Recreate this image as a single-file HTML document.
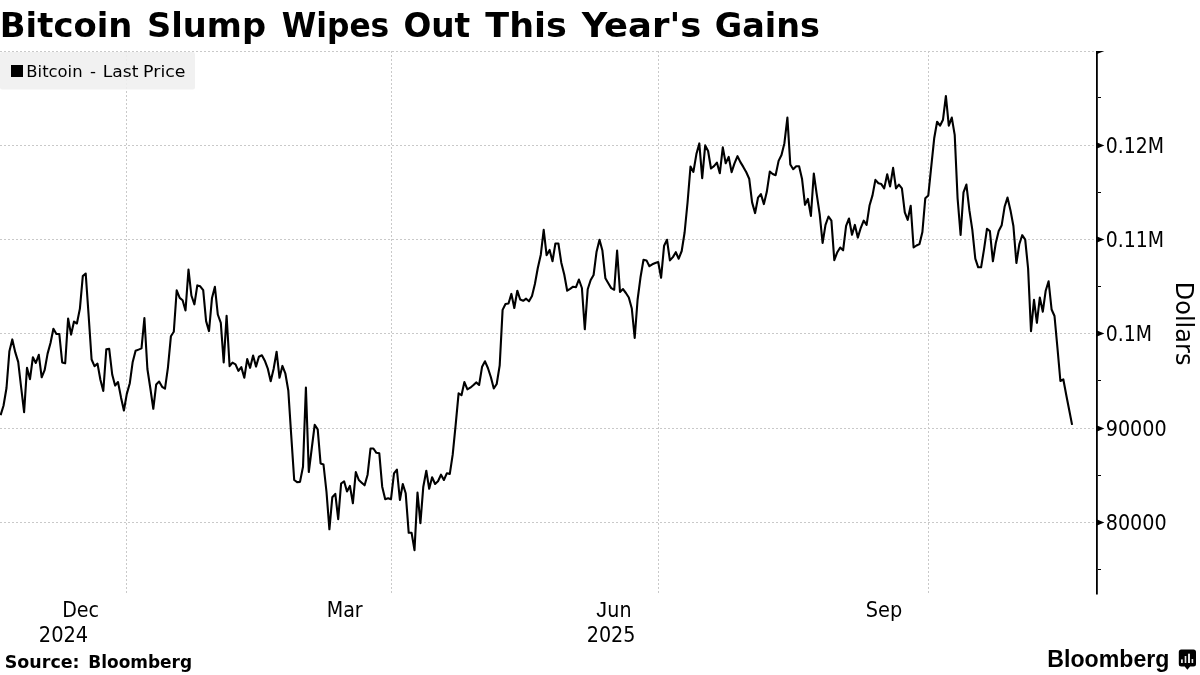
<!DOCTYPE html>
<html lang="en">
<head>
<meta charset="utf-8">
<title>Bitcoin Slump Wipes Out This Year's Gains</title>
<style>
html,body{margin:0;padding:0;background:#fff;}
body{width:1200px;height:675px;overflow:hidden;position:relative;font-family:"DejaVu Sans","Liberation Sans",sans-serif;}
svg{position:absolute;left:0;top:0;display:block;}
text{fill:#000;}
.t{font-family:"DejaVu Sans","Liberation Sans",sans-serif;font-weight:bold;font-size:34.35px;}
.l{font-family:"DejaVu Sans","Liberation Sans",sans-serif;font-size:16.6px;}
.a{font-family:"DejaVu Sans Condensed","DejaVu Sans","Liberation Sans",sans-serif;font-stretch:condensed;font-size:21.2px;}
.s{font-family:"DejaVu Sans","Liberation Sans",sans-serif;font-weight:bold;font-size:17.45px;}
.g{font-family:"Liberation Sans",sans-serif;font-weight:bold;font-size:23.7px;}
</style>
</head>
<body>
<svg width="1200" height="675" viewBox="0 0 1200 675">
<rect width="1200" height="675" fill="#fff"/>
<g stroke="#c9c9c9" stroke-width="1" stroke-dasharray="2 2" fill="none" shape-rendering="crispEdges"><line x1="0" y1="51.5" x2="1095" y2="51.5"/><line x1="0" y1="145.5" x2="1095" y2="145.5"/><line x1="0" y1="239.5" x2="1095" y2="239.5"/><line x1="0" y1="333.5" x2="1095" y2="333.5"/><line x1="0" y1="428.5" x2="1095" y2="428.5"/><line x1="0" y1="522.5" x2="1095" y2="522.5"/><line x1="126.5" y1="51" x2="126.5" y2="594"/><line x1="391.5" y1="51" x2="391.5" y2="594"/><line x1="658.5" y1="51" x2="658.5" y2="594"/><line x1="928.5" y1="51" x2="928.5" y2="594"/></g>
<rect x="0" y="52" width="195" height="37.5" rx="2" fill="#efefef" fill-opacity="0.88"/>
<rect x="11" y="65" width="12" height="12" fill="#000"/>
<polyline points="0.6,415.2 3.5,405.7 6.5,388.0 9.4,351.2 12.3,339.4 15.3,352.4 18.2,361.9 21.1,387.0 24.1,412.1 27.0,367.8 30.0,379.2 32.9,357.2 35.8,363.0 38.8,354.8 41.7,377.3 44.6,370.2 47.6,353.6 50.5,343.0 53.4,328.7 56.4,334.0 59.3,334.0 62.2,362.4 65.2,363.3 68.1,318.5 71.1,334.6 74.0,321.6 76.9,323.5 79.9,308.6 82.8,276.1 85.7,273.5 88.7,316.5 91.6,359.5 94.5,366.2 97.5,363.6 100.4,379.7 103.3,391.0 106.3,349.3 109.2,348.9 112.2,374.5 115.1,385.6 118.0,382.0 121.0,397.4 123.9,410.5 126.8,393.9 129.8,383.2 132.7,361.9 135.6,350.8 138.6,349.6 141.5,348.4 144.4,318.1 147.4,369.0 150.3,388.0 153.3,408.8 156.2,384.4 159.1,381.6 162.1,386.8 165.0,388.7 167.9,367.8 170.9,336.3 173.8,331.8 176.7,290.3 179.7,297.9 182.6,300.3 185.5,310.5 188.5,269.5 191.4,295.5 194.4,304.3 197.3,285.4 200.2,286.3 203.2,290.2 206.1,321.1 209.0,331.1 212.0,297.9 214.9,286.8 217.8,314.5 220.8,322.8 223.7,362.4 226.6,315.7 229.6,366.2 232.5,362.6 235.5,364.3 238.4,370.9 241.3,367.1 244.3,377.8 247.2,359.1 250.1,367.8 253.1,355.5 256.0,366.6 258.9,356.7 261.9,355.3 264.8,360.7 267.7,368.3 270.7,381.3 273.6,369.0 276.6,351.7 279.5,377.8 282.4,365.9 285.4,373.7 288.3,390.5 291.2,435.0 294.2,480.0 297.1,482.1 300.0,481.9 303.0,466.7 305.9,387.5 308.8,472.0 311.8,448.0 314.7,424.8 317.7,429.3 320.6,463.5 323.5,464.5 326.5,492.0 329.4,529.3 332.3,497.3 335.3,493.9 338.2,519.2 341.1,483.5 344.1,481.3 347.0,491.5 349.9,485.9 352.9,503.2 355.8,472.0 358.8,480.0 361.7,482.7 364.6,485.3 367.6,474.7 370.5,448.5 373.4,448.5 376.4,452.8 379.3,453.3 382.2,486.7 385.2,499.2 388.1,498.2 391.0,499.2 394.0,473.3 396.9,469.6 399.9,500.0 402.8,484.0 405.7,493.3 408.7,532.8 411.6,532.8 414.5,550.1 417.5,492.5 420.4,523.2 423.3,486.7 426.3,470.7 429.2,488.8 432.1,477.3 435.1,484.0 438.0,481.3 441.0,474.7 443.9,480.0 446.8,473.3 449.8,473.9 452.7,454.7 455.6,425.3 458.6,393.3 461.5,395.2 464.4,382.1 467.4,389.3 470.3,387.7 473.2,385.3 476.2,382.4 479.1,385.0 482.1,366.7 485.0,361.3 487.9,368.0 490.9,377.3 493.8,388.5 496.7,384.0 499.7,365.3 502.6,309.9 505.5,304.0 508.5,303.5 511.4,293.9 514.3,308.0 517.3,290.7 520.2,299.5 523.2,300.8 526.1,298.7 529.0,301.3 532.0,296.0 534.9,284.0 537.8,268.0 540.8,254.7 543.7,229.9 546.6,255.2 549.6,249.9 552.5,261.3 555.4,243.5 558.4,243.5 561.3,262.7 564.3,274.7 567.2,290.7 570.1,288.8 573.1,286.7 576.0,287.2 578.9,279.5 581.9,288.0 584.8,329.3 587.7,289.3 590.7,280.0 593.6,275.0 596.5,252.1 599.5,239.7 602.4,250.6 605.4,278.3 608.3,283.2 611.2,288.1 614.2,289.7 617.1,250.6 620.0,292.0 623.0,289.1 625.9,293.0 628.8,297.5 631.8,308.5 634.7,338.0 637.6,299.5 640.6,276.7 643.5,259.7 646.5,260.4 649.4,266.2 652.3,264.3 655.3,263.0 658.2,262.0 661.1,277.7 664.1,245.7 667.0,239.8 669.9,260.4 672.9,257.1 675.8,252.2 678.7,258.7 681.7,251.0 684.6,232.5 687.6,202.0 690.5,166.6 693.4,171.9 696.4,154.1 699.3,143.4 702.2,178.2 705.2,145.4 708.1,151.0 711.0,168.5 714.0,166.2 716.9,162.6 719.8,173.3 722.8,147.4 725.7,163.3 728.7,156.9 731.6,172.1 734.5,163.3 737.5,156.2 740.4,162.1 743.3,166.9 746.3,172.3 749.2,178.7 752.1,202.4 755.1,213.1 758.0,197.7 760.9,194.1 763.9,204.1 766.8,191.8 769.8,171.6 772.7,174.0 775.6,175.2 778.6,160.9 781.5,155.0 784.4,143.2 787.4,117.6 790.3,164.5 793.2,169.2 796.2,166.2 799.1,166.2 802.0,178.7 805.0,204.8 807.9,198.9 810.9,215.9 813.8,173.5 816.7,194.1 819.7,214.3 822.6,243.0 825.5,224.8 828.5,216.5 831.4,220.7 834.3,260.1 837.3,252.2 840.2,247.5 843.1,250.3 846.1,225.8 849.0,218.5 852.0,234.8 854.9,224.9 857.8,237.6 860.8,227.8 863.7,220.7 866.6,224.9 869.6,205.2 872.5,195.4 875.4,179.9 878.4,183.3 881.3,184.1 884.2,188.4 887.2,174.3 890.1,186.4 893.1,167.8 896.0,188.4 898.9,184.7 901.9,188.4 904.8,212.3 907.7,219.9 910.7,205.8 913.6,247.5 916.5,245.5 919.5,244.1 922.4,232.0 925.3,198.2 928.3,195.4 931.2,167.2 934.2,138.3 937.1,121.7 940.0,125.7 943.0,119.7 945.9,96.0 948.8,125.7 951.8,117.6 954.7,134.8 957.6,198.5 960.6,235.0 963.5,192.3 966.4,184.6 969.4,210.4 972.3,229.6 975.3,258.7 978.2,267.3 981.1,267.3 984.1,248.9 987.0,228.7 989.9,231.1 992.9,261.3 995.8,243.0 998.7,231.1 1001.7,225.2 1004.6,206.8 1007.5,197.6 1010.5,210.4 1013.4,226.0 1016.4,263.0 1019.3,244.3 1022.2,235.2 1025.2,239.6 1028.1,268.5 1031.0,331.2 1034.0,299.8 1036.9,322.8 1039.8,297.5 1042.8,311.7 1045.7,290.7 1048.6,281.3 1051.6,309.5 1054.5,316.0 1057.5,348.5 1060.4,381.0 1063.3,379.3 1066.3,395.2 1069.2,410.0 1072.1,424.9" fill="none" stroke="#000" stroke-width="2.1" stroke-linejoin="round" stroke-linecap="butt"/>
<rect x="1096" y="51" width="1.8" height="543.5" fill="#000"/>
<g fill="#000"><path d="M1097 142.6L1104.4 145.5L1097 148.4Z"/><path d="M1097 236.6L1104.4 239.5L1097 242.4Z"/><path d="M1097 330.6L1104.4 333.5L1097 336.4Z"/><path d="M1097 425.6L1104.4 428.5L1097 431.4Z"/><path d="M1097 519.6L1104.4 522.5L1097 525.4Z"/><rect x="1098" y="97.0" width="3" height="1"/><rect x="1098" y="192.0" width="3" height="1"/><rect x="1098" y="286.0" width="3" height="1"/><rect x="1098" y="380.0" width="3" height="1"/><rect x="1098" y="475.0" width="3" height="1"/><rect x="1098" y="569.0" width="3" height="1"/><path d="M1097 51L1104.4 51L1097 53.9Z"/></g>
<text class="t" y="36.7"><tspan x="-0.16" textLength="132.50" lengthAdjust="spacingAndGlyphs">Bitcoin</tspan> <tspan x="147.04" textLength="119.02" lengthAdjust="spacingAndGlyphs">Slump</tspan> <tspan x="281.69" textLength="107.57" lengthAdjust="spacingAndGlyphs">Wipes</tspan> <tspan x="403.39" textLength="66.79" lengthAdjust="spacingAndGlyphs">Out</tspan> <tspan x="485.30" textLength="81.50" lengthAdjust="spacingAndGlyphs">This</tspan> <tspan x="581.70" textLength="119.59" lengthAdjust="spacingAndGlyphs">Year&#39;s</tspan> <tspan x="714.75" textLength="105.18" lengthAdjust="spacingAndGlyphs">Gains</tspan></text>
<text class="l" y="77.4"><tspan x="26.32" textLength="56.27" lengthAdjust="spacingAndGlyphs">Bitcoin</tspan> <tspan x="90.1">-</tspan> <tspan x="102.74" textLength="35.66" lengthAdjust="spacingAndGlyphs">Last</tspan> <tspan x="143.11" textLength="42.40" lengthAdjust="spacingAndGlyphs">Price</tspan></text>
<text class="s" y="667.7"><tspan x="4.80" textLength="74.81" lengthAdjust="spacingAndGlyphs">Source:</tspan> <tspan x="88.23" textLength="103.92" lengthAdjust="spacingAndGlyphs">Bloomberg</tspan></text>
<text class="a" x="1105.71" y="152.8" textLength="58.26" lengthAdjust="spacingAndGlyphs">0.12M</text>
<text class="a" x="1105.71" y="246.8" textLength="58.26" lengthAdjust="spacingAndGlyphs">0.11M</text>
<text class="a" x="1105.71" y="340.8" textLength="46.23" lengthAdjust="spacingAndGlyphs">0.1M</text>
<text class="a" x="1105.69" y="435.8" textLength="60.94" lengthAdjust="spacingAndGlyphs">90000</text>
<text class="a" x="1105.69" y="529.8" textLength="60.94" lengthAdjust="spacingAndGlyphs">80000</text>
<text class="a" x="62.20" y="616.8" textLength="36.91" lengthAdjust="spacingAndGlyphs">Dec</text>
<text class="a" x="38.78" y="641.8" textLength="49.45" lengthAdjust="spacingAndGlyphs">2024</text>
<text class="a" x="326.75" y="616.8" textLength="35.92" lengthAdjust="spacingAndGlyphs">Mar</text>
<text class="a" x="586.74" y="641.8" textLength="48.76" lengthAdjust="spacingAndGlyphs">2025</text>
<text class="a" x="865.79" y="616.8" textLength="36.43" lengthAdjust="spacingAndGlyphs">Sep</text>
<text class="g" x="1047.32" y="667" textLength="122.16" lengthAdjust="spacingAndGlyphs">Bloomberg</text>
<text class="a" x="596.3" y="616.8"><tspan style="font-family:'Liberation Sans',sans-serif;font-size:21.5px">J</tspan><tspan dx="0.3">un</tspan></text>
<text class="a" style="font-size:25.5px" transform="translate(1175.7 281.70) rotate(90)" textLength="83.73" lengthAdjust="spacingAndGlyphs">Dollars</text>
<g>
<path d="M1181.3 649.6h12.2a2.5 2.5 0 0 1 2.5 2.5v11.8a2.5 2.5 0 0 1-2.5 2.5h-3.4l-2.7 3.4l-2.7-3.4h-3.4a2.5 2.5 0 0 1-2.5-2.5v-11.8a2.5 2.5 0 0 1 2.5-2.5z" fill="#000"/>
<rect x="1181" y="659.4" width="1.8" height="3.6" fill="#e6e6e6"/>
<rect x="1184.7" y="656" width="1.6" height="7" fill="#e6e6e6"/>
<rect x="1188" y="653.7" width="2" height="9.3" fill="#e6e6e6"/>
<rect x="1191.6" y="659" width="1.6" height="4" fill="#e6e6e6"/>
</g>
</svg>
</body>
</html>
